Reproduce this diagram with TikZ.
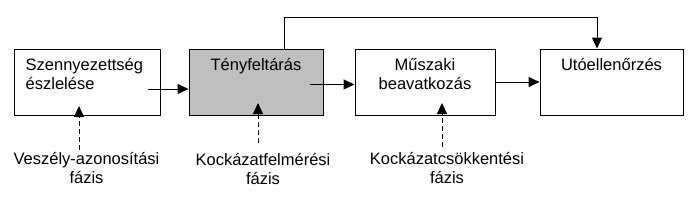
\documentclass[tikz,border=0pt]{standalone}
\usepackage{fontspec}
\setmainfont{Liberation Sans}
\usetikzlibrary{positioning,arrows.meta}

\begin{document}
\begin{tikzpicture}[x=1pt, y=1pt, font=\fontsize{16.5}{19}\selectfont,
  box/.style={draw, line width=1pt, minimum width=#1, minimum height=66pt, inner sep=0pt},
  intxt/.style={inner sep=0pt, align=center},
  arr/.style={-{Triangle[length=11pt, width=10pt]}, line width=1pt},
  darr/.style={arr, dash pattern=on 5pt off 3pt}]
\useasboundingbox (0,0) rectangle (696,-209);
\node[box=146pt, label={[intxt, align=left, anchor=north west, xshift=12pt, yshift=-10pt]north west:{Szennyezettség\\észlelése}}] (detect) at (87,-82) {};
\node[box=134pt, fill=black!25, right=28pt of detect, label={[intxt, anchor=north, yshift=-10pt]north:{Tényfeltárás}}] (explore) {};
\node[box=140pt, right=31pt of explore, label={[intxt, anchor=north, yshift=-10pt]north:{Műszaki\\beavatkozás}}] (remedy) {};
\node[box=143pt, right=44pt of remedy, label={[intxt, anchor=north, yshift=-10pt]north:{Utóellenőrzés}}] (monitor) {};
% fazisok
\node[intxt, anchor=north] (hazard) at (86.5,-152.5) {Veszély-azonosítási\\fázis};
\node[intxt, anchor=north] (riskassess) at (263,-153.5) {Kockázatfelmérési\\fázis};
\node[intxt, anchor=north] (riskreduce) at (447,-152.5) {Kockázatcsökkentési\\fázis};
% nyilak
\coordinate (a1) at ([xshift=-13pt, yshift=-7pt]detect.east);
\coordinate (a2) at ([xshift=-14pt, yshift=-2.5pt]explore.east);
\coordinate (top) at ([xshift=-14.5pt]monitor.north |- 0,-17);
\draw[arr] (a1) -- (a1 -| explore.west);
\draw[arr] (a2) -- (a2 -| remedy.west);
\draw[arr] (remedy) -- (monitor);
\draw[arr] ([xshift=28pt]explore.north) |- (top) -- (top |- monitor.north);
\draw[darr] ([xshift=-7.5pt, yshift=2.5pt]hazard.north) -- ++(0,44);
\draw[darr] ([xshift=-5pt, yshift=10.5pt]riskassess.north) -- ++(0,40);
\draw[darr] ([xshift=-5pt, yshift=5.5pt]riskreduce.north) -- ++(0,44);
\end{tikzpicture}
\end{document}
